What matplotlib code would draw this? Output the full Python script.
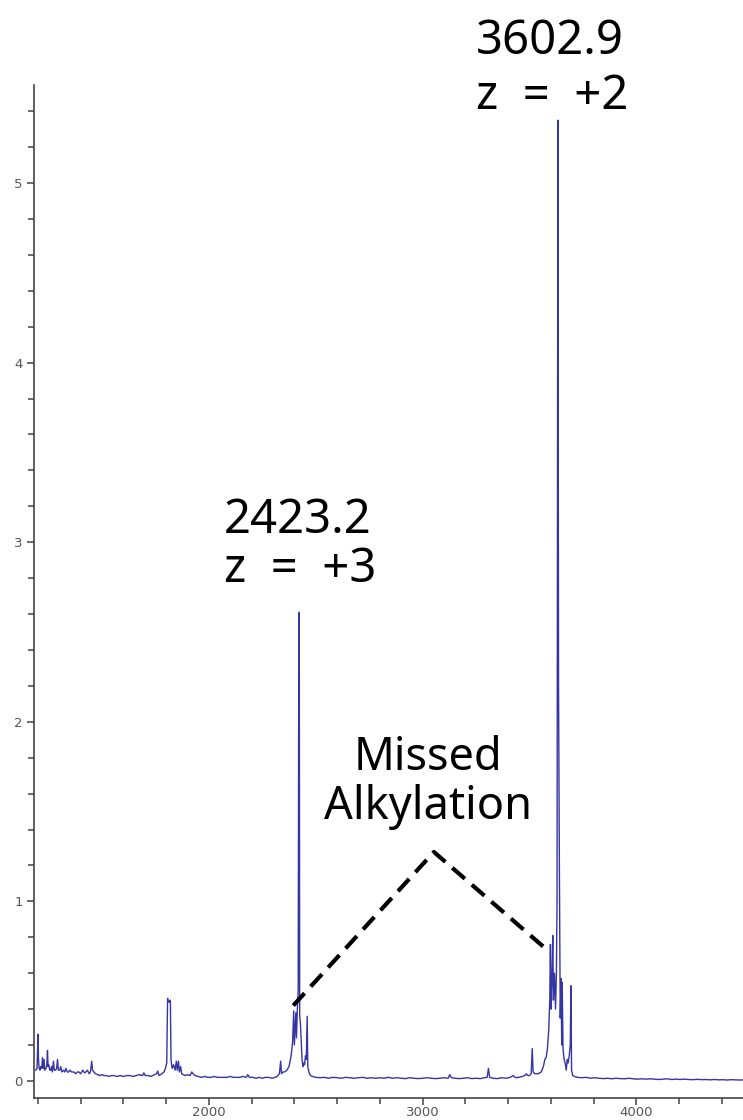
import numpy as np
import matplotlib.pyplot as plt
from matplotlib.ticker import MultipleLocator

##### MS spectrum (m/z vs intensity) #####

mz = [1190, 1196, 1199, 1201, 1203, 1206, 1210, 1214, 1218, 1222, 1225, 1229, 1232, 1238, 1242, 1245,
      1248, 1251, 1256, 1260, 1264, 1268, 1273, 1277, 1283, 1288, 1292, 1296, 1302, 1307, 1312, 1320,
      1326, 1331, 1338, 1344, 1350, 1358, 1368, 1376, 1385, 1392, 1400, 1410, 1418, 1425, 1432, 1440,
      1446, 1452, 1456, 1462, 1470, 1479, 1490, 1500, 1509, 1520, 1532, 1545, 1555, 1570, 1585, 1600,
      1615, 1630, 1645, 1660, 1675, 1690, 1696, 1702, 1715, 1730, 1745, 1755, 1761, 1767, 1780, 1790,
      1797, 1803, 1807, 1810, 1815, 1820, 1823, 1828, 1835, 1842, 1848, 1852, 1858, 1862, 1868, 1873,
      1880, 1890, 1900, 1912, 1920, 1926, 1935, 1950, 1965, 1980, 1995, 2010, 2025, 2040, 2055, 2070,
      2085, 2100, 2115, 2130, 2145, 2160, 2175, 2182, 2190, 2205, 2220, 2235, 2250, 2265, 2280, 2295,
      2310, 2320, 2330, 2336, 2340, 2346, 2355, 2365, 2375, 2385, 2392, 2397, 2400, 2404, 2407, 2410,
      2414, 2418, 2421, 2423, 2425, 2428, 2432, 2436, 2440, 2444, 2448, 2452, 2456, 2460, 2463, 2468,
      2475, 2485, 2500, 2520, 2540, 2560, 2580, 2600, 2620, 2640, 2660, 2680, 2700, 2720, 2740, 2760,
      2780, 2800, 2820, 2840, 2860, 2880, 2900, 2920, 2940, 2960, 2980, 3000, 3020, 3040, 3060, 3080,
      3100, 3120, 3127, 3135, 3150, 3170, 3190, 3210, 3230, 3250, 3270, 3290, 3302, 3308, 3314, 3330,
      3350, 3370, 3390, 3410, 3424, 3435, 3450, 3465, 3478, 3485, 3492, 3500, 3508, 3513, 3517, 3525,
      3540, 3555, 3565, 3572, 3578, 3584, 3590, 3595, 3598, 3601, 3605, 3609, 3612, 3617, 3622, 3626,
      3629, 3631, 3633, 3636, 3640, 3644, 3648, 3651, 3653, 3657, 3662, 3667, 3672, 3677, 3681, 3686,
      3691, 3694, 3697, 3702, 3710, 3725, 3745, 3765, 3785, 3805, 3825, 3845, 3865, 3885, 3905, 3925,
      3945, 3965, 3985, 4005, 4025, 4045, 4065, 4085, 4105, 4125, 4145, 4165, 4185, 4205, 4225, 4245,
      4265, 4285, 4305, 4325, 4345, 4365, 4385, 4405, 4425, 4445, 4465, 4485, 4500]

intensity = [0.06, 0.07, 0.18, 0.26, 0.12, 0.07, 0.06, 0.08, 0.07, 0.13, 0.07, 0.12, 0.06, 0.07, 0.09, 0.17,
             0.08, 0.09, 0.06, 0.06, 0.08, 0.05, 0.11, 0.06, 0.06, 0.07, 0.12, 0.06, 0.06, 0.08, 0.05, 0.06,
             0.05, 0.07, 0.05, 0.05, 0.06, 0.05, 0.05, 0.04, 0.05, 0.05, 0.04, 0.06, 0.045, 0.05, 0.06, 0.04,
             0.05, 0.11, 0.06, 0.05, 0.04, 0.035, 0.03, 0.035, 0.03, 0.03, 0.025, 0.03, 0.03, 0.025, 0.03, 0.025,
             0.03, 0.03, 0.025, 0.03, 0.035, 0.03, 0.045, 0.03, 0.03, 0.025, 0.035, 0.04, 0.055, 0.03, 0.04, 0.05,
             0.07, 0.10, 0.46, 0.44, 0.44, 0.45, 0.12, 0.07, 0.09, 0.06, 0.11, 0.06, 0.11, 0.05, 0.08, 0.04,
             0.035, 0.03, 0.035, 0.03, 0.05, 0.04, 0.03, 0.025, 0.02, 0.025, 0.02, 0.02, 0.025, 0.02, 0.02, 0.02,
             0.02, 0.025, 0.02, 0.02, 0.02, 0.025, 0.02, 0.035, 0.02, 0.02, 0.015, 0.02, 0.015, 0.02, 0.02, 0.015,
             0.02, 0.025, 0.04, 0.11, 0.04, 0.05, 0.05, 0.06, 0.08, 0.14, 0.22, 0.39, 0.20, 0.30, 0.38, 0.24,
             0.40, 0.50, 2.57, 2.61, 0.36, 0.33, 0.22, 0.12, 0.08, 0.10, 0.09, 0.14, 0.12, 0.36, 0.08, 0.05,
             0.03, 0.025, 0.02, 0.018, 0.02, 0.015, 0.02, 0.018, 0.015, 0.02, 0.018, 0.015, 0.018, 0.02, 0.015, 0.018,
             0.015, 0.018, 0.015, 0.02, 0.015, 0.018, 0.015, 0.013, 0.018, 0.015, 0.013, 0.015, 0.018, 0.015, 0.013, 0.015,
             0.018, 0.015, 0.035, 0.018, 0.015, 0.013, 0.015, 0.018, 0.013, 0.015, 0.013, 0.018, 0.02, 0.07, 0.02, 0.015,
             0.013, 0.018, 0.015, 0.02, 0.03, 0.018, 0.02, 0.025, 0.03, 0.04, 0.03, 0.03, 0.04, 0.18, 0.05, 0.04,
             0.04, 0.05, 0.08, 0.12, 0.13, 0.18, 0.28, 0.45, 0.76, 0.40, 0.55, 0.81, 0.45, 0.60, 0.40, 0.60,
             1.00, 3.17, 5.35, 2.20, 1.18, 0.35, 0.57, 0.20, 0.55, 0.18, 0.12, 0.10, 0.06, 0.12, 0.10, 0.14,
             0.20, 0.53, 0.06, 0.03, 0.025, 0.02, 0.018, 0.02, 0.015, 0.018, 0.015, 0.013, 0.015, 0.012, 0.015, 0.013,
             0.012, 0.015, 0.012, 0.01, 0.012, 0.01, 0.012, 0.01, 0.008, 0.01, 0.012, 0.008, 0.01, 0.008, 0.01, 0.008,
             0.007, 0.009, 0.007, 0.008, 0.006, 0.008, 0.006, 0.007, 0.005, 0.007, 0.006, 0.005, 0.006]

# 破線 (Missed Alkylation)
bracket_x = [2395, 3053, 3592]
bracket_y = [0.42, 1.275, 0.72]

fig = plt.figure(figsize=(7.43, 11.2), dpi=100)
ax = fig.add_axes([34 / 743, 22 / 1120, 1 - 34 / 743, (1098 - 85) / 1120])

ax.plot(mz, intensity, color='#3535a5', linewidth=1.0)
ax.plot(bracket_x, bracket_y, color='black', linewidth=3, linestyle=(0, (4, 2.2)))

ax.set_xlim(1182, 4499)
ax.set_ylim(-0.095, 5.546)

ax.xaxis.set_major_locator(MultipleLocator(1000))
ax.xaxis.set_minor_locator(MultipleLocator(200))
ax.yaxis.set_major_locator(MultipleLocator(1))
ax.yaxis.set_minor_locator(MultipleLocator(0.2))

for s in ['top', 'right']:
    ax.spines[s].set_visible(False)
for s in ['left', 'bottom']:
    ax.spines[s].set_color('#444444')
    ax.spines[s].set_linewidth(1.2)

ax.tick_params(which='both', direction='out', color='#444444', labelcolor='#555555', labelsize=9.5, width=1.1)
ax.tick_params(which='major', length=5, pad=3)
ax.tick_params(axis='x', which='major', pad=1)
ax.tick_params(which='minor', length=4)

txt = dict(fontsize=34, family='Noto Sans', color='black', clip_on=False)
ax.text(3248, 5.72, '3602.9', ha='left', va='baseline', **txt)
ax.text(3248, 5.41, 'z  =  +2', ha='left', va='baseline', **txt)
ax.text(2071, 3.05, '2423.2', ha='left', va='baseline', **txt)
ax.text(2071, 2.78, 'z  =  +3', ha='left', va='baseline', **txt)
ax.text(3025, 1.73, 'Missed', ha='center', va='baseline', fontsize=32.5, family='Noto Sans', clip_on=False)
ax.text(3025, 1.46, 'Alkylation', ha='center', va='baseline', fontsize=32.5, family='Noto Sans', clip_on=False)

plt.savefig('out.png', dpi=100)
